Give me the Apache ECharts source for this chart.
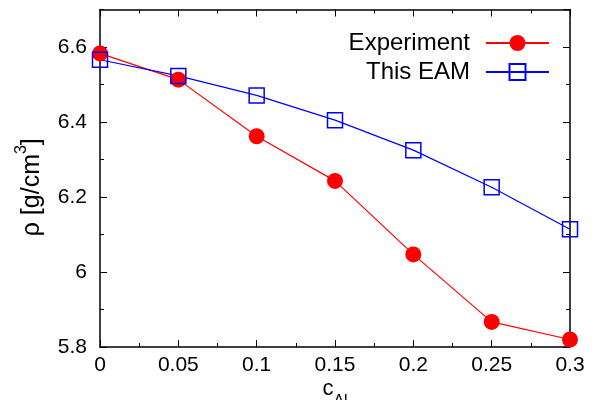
<!DOCTYPE html>
<html>
<head>
<meta charset="utf-8">
<script src="https://cdn.jsdelivr.net/npm/echarts@6/dist/echarts.min.js"></script>
<style>
  html, body { margin: 0; padding: 0; background: #fff; }
  #chart { width: 599px; height: 400px; }
</style>
</head>
<body>
<div id="chart"></div>
<script>
// Al concentration and density values
const cAl = [0, 0.05, 0.1, 0.15, 0.2, 0.25, 0.3];
const experiment = [6.583, 6.513, 6.362, 6.243, 6.047, 5.867, 5.820];
const thisEAM = [6.566, 6.523, 6.471, 6.405, 6.325, 6.226, 6.114];
const seriesNames = ['Experiment', 'This EAM'];

const FONT = 'Liberation Sans, Arial, Helvetica, sans-serif';
const frame = { show: true, lineStyle: { color: '#000', width: 1.5 } };

const toPairs = (xs, ys) => xs.map((x, i) => [x, ys[i]]);

function xAxisDef(pos, withLabels) {
  return {
    type: 'value', position: pos, min: 0, max: 0.3, interval: 0.05,
    axisLine: frame,
    axisTick: { show: true, inside: true, length: 7, lineStyle: { color: '#000', width: 1 } },
    minorTick: { show: true, splitNumber: 2, length: 4, lineStyle: { color: '#000', width: 1 } },
    splitLine: { show: false },
    axisLabel: { show: withLabels, color: '#000', fontFamily: FONT, fontSize: 21, margin: 8 },
    name: withLabels ? '{c|c}{sub|Al}' : '',
    nameLocation: 'middle', nameGap: 41, nameMoveOverlap: false,
    nameTextStyle: {
      fontFamily: FONT, color: '#000',
      rich: {
        c: { fontFamily: FONT, fontSize: 22, color: '#000', verticalAlign: 'bottom', lineHeight: 22, padding: [0, 0, 10, 0] },
        sub: { fontFamily: FONT, fontSize: 16, color: '#000', verticalAlign: 'bottom', lineHeight: 16 }
      }
    }
  };
}

function yAxisDef(pos, step, tickLen, withLabels, line) {
  return {
    type: 'value', position: pos, min: 5.8, max: 6.7, interval: step,
    axisLine: line ? frame : { show: false },
    axisTick: { show: true, inside: true, length: tickLen, lineStyle: { color: '#000', width: 1 } },
    splitLine: { show: false },
    axisLabel: { show: withLabels, color: '#000', fontFamily: FONT, fontSize: 21, margin: 13, showMaxLabel: false },
    name: withLabels ? '{t|ρ [g/cm}{sup|3}{e|]}' : '',
    nameLocation: 'middle', nameGap: 55, nameRotate: 90, nameMoveOverlap: false,
    nameTextStyle: {
      fontFamily: FONT, color: '#000',
      rich: {
        t: { fontFamily: FONT, fontSize: 25, color: '#000', verticalAlign: 'bottom', lineHeight: 26 },
        e: { fontFamily: FONT, fontSize: 25, color: '#000', verticalAlign: 'bottom', lineHeight: 26, padding: [0, 18, 0, 0] },
        sup: { fontFamily: FONT, fontSize: 16, color: '#000', verticalAlign: 'bottom', lineHeight: 16, padding: [0, 0, 15, 0] }
      }
    }
  };
}

function legendDef(name, top) {
  return {
    data: [name], orient: 'horizontal', align: 'right',
    right: 49, top: top, padding: 0,
    itemWidth: 63, itemHeight: 20,
    selectedMode: false,
    textStyle: { fontFamily: FONT, fontSize: 24, color: '#000', lineHeight: 20, padding: [0, 11, 0, 0] }
  };
}

const chart = echarts.init(document.getElementById('chart'), null, { renderer: 'canvas' });
chart.setOption({
  backgroundColor: '#fff',
  animation: false,
  grid: { left: 100, right: 29, top: 9.5, bottom: 53, containLabel: false, outerBoundsMode: 'none' },
  xAxis: [xAxisDef('bottom', true), xAxisDef('top', false)],
  yAxis: [
    yAxisDef('left', 0.2, 7, true, true),
    yAxisDef('left', 0.1, 4, false, false),
    yAxisDef('right', 0.2, 7, false, true),
    yAxisDef('right', 0.1, 4, false, false)
  ],
  legend: [legendDef(seriesNames[0], 31), legendDef(seriesNames[1], 60)],
  series: [
    {
      name: seriesNames[0], type: 'line', xAxisIndex: 0, yAxisIndex: 0,
      data: toPairs(cAl, experiment),
      symbol: 'circle', symbolSize: 16,
      lineStyle: { color: '#ff0000', width: 1.2 },
      itemStyle: { color: '#ff0000' }
    },
    {
      name: seriesNames[1], type: 'line', xAxisIndex: 0, yAxisIndex: 0,
      data: toPairs(cAl, thisEAM),
      symbol: 'rect', symbolSize: 15,
      lineStyle: { color: '#0000ff', width: 1.2 },
      itemStyle: { color: 'rgba(255,255,255,0)', borderColor: '#0000ff', borderWidth: 1.5 }
    }
  ]
});
</script>
</body>
</html>
